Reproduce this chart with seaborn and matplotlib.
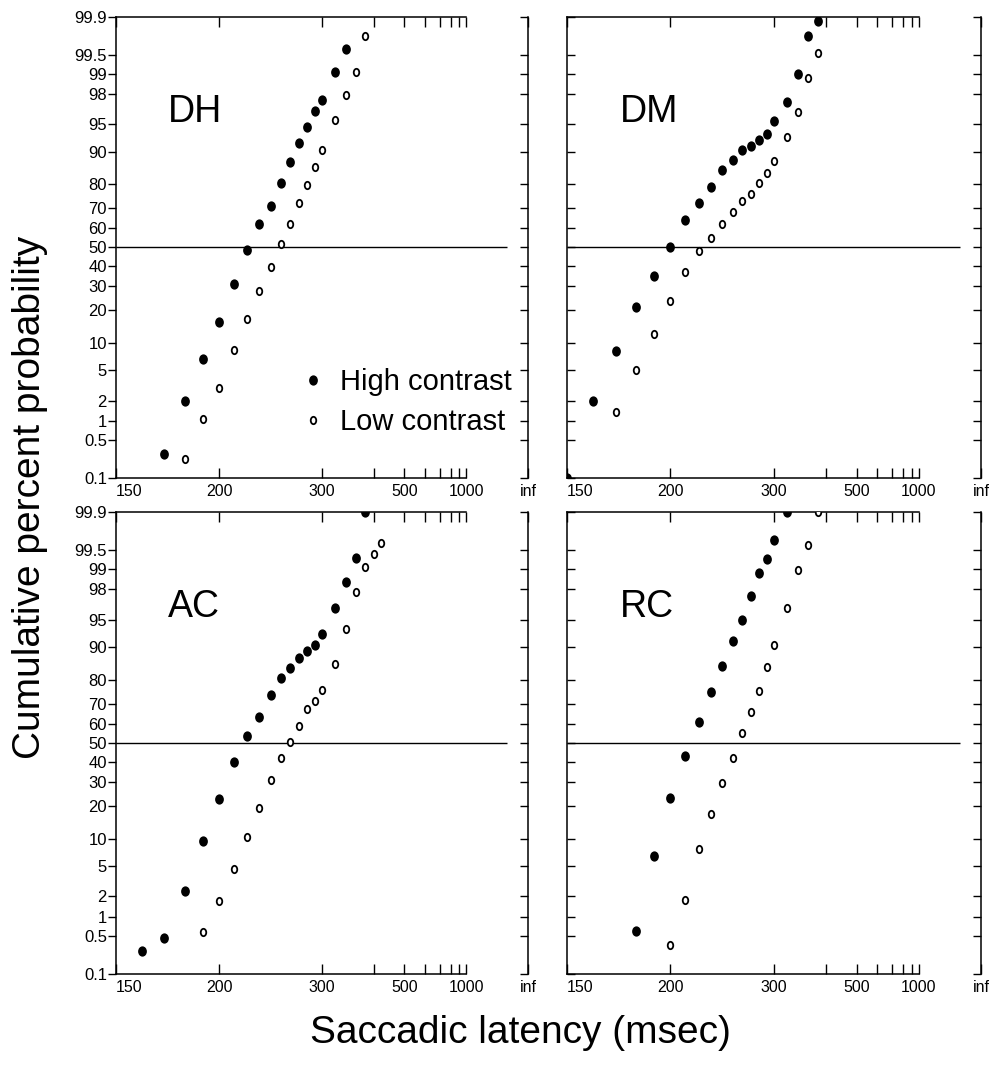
import numpy as np
import pandas as pd
import matplotlib
matplotlib.use('Agg')
import matplotlib.pyplot as plt
from matplotlib.path import Path
from matplotlib.transforms import Affine2D
import seaborn as sns
from statistics import NormalDist

# cumulative percent of saccades at each latency bin (ms)
DH_hi_ms = [170, 180, 190, 200, 210, 220, 230, 240, 250, 260, 270, 280, 290, 300, 320, 340]
DH_hi_pct = [0.28, 2.0, 6.8, 15.9, 31.1, 48.4, 62.1, 71.2, 80.5, 87.3, 91.8, 94.7, 96.6, 97.6, 99.06, 99.61]
DH_lo_ms = [180, 190, 200, 210, 220, 230, 240, 250, 260, 270, 280, 290, 300, 320, 340, 360, 380]
DH_lo_pct = [0.23, 1.09, 2.97, 8.5, 16.9, 27.9, 39.4, 51.6, 62.3, 72.4, 79.9, 86.0, 90.4, 95.6, 97.9, 99.07, 99.77]

DM_hi_ms = [150, 160, 170, 180, 190, 200, 210, 220, 230, 240, 250, 260, 270, 280, 290, 300, 320, 340, 360, 380]
DM_hi_pct = [0.1, 2.0, 8.2, 21.1, 35.1, 49.9, 64.3, 72.4, 79.2, 85.1, 87.9, 90.3, 91.3, 92.4, 93.5, 95.4, 97.45, 98.98, 99.77, 99.88]
DM_lo_ms = [170, 180, 190, 200, 210, 220, 230, 240, 250, 260, 270, 280, 290, 300, 320, 340, 360, 380]
DM_lo_pct = [1.35, 4.98, 12.4, 23.7, 36.9, 48.1, 54.9, 62.2, 68.2, 73.4, 76.4, 80.7, 83.9, 87.7, 93.1, 96.5, 98.84, 99.54]

AC_hi_ms = [160, 170, 180, 190, 200, 210, 220, 230, 240, 250, 260, 270, 280, 290, 300, 320, 340, 360, 380]
AC_hi_pct = [0.27, 0.45, 2.36, 9.4, 22.5, 39.8, 53.9, 63.8, 74.0, 80.9, 84.3, 87.2, 89.1, 90.6, 92.7, 96.45, 98.44, 99.34, 99.9]
AC_lo_ms = [190, 200, 210, 220, 230, 240, 250, 260, 270, 280, 290, 300, 320, 340, 360, 380, 400, 420]
AC_lo_pct = [0.57, 1.73, 4.65, 10.5, 19.3, 31.0, 42.2, 50.4, 58.9, 67.4, 71.3, 76.2, 85.5, 93.6, 97.8, 99.07, 99.43, 99.63]

RC_hi_ms = [180, 190, 200, 210, 220, 230, 240, 250, 260, 270, 280, 290, 300, 320]
RC_hi_pct = [0.6, 6.5, 23.0, 43.1, 61.2, 75.1, 84.8, 91.3, 95.0, 97.5, 98.85, 99.3, 99.67, 99.9]
RC_lo_ms = [200, 210, 220, 230, 240, 250, 260, 270, 280, 290, 300, 320, 340, 360, 380]
RC_lo_pct = [0.35, 1.8, 7.8, 17.2, 29.7, 42.2, 55.3, 66.1, 75.8, 84.6, 90.6, 96.4, 98.97, 99.59, 99.9]

subjects = ['DH', 'DM', 'AC', 'RC']

# axis ticks
INF = 1e12  # stands in for infinite latency (reciprocal 0)
x_major = [150, 200, 300, 500, 1000, INF]
x_major_labels = ['150', '200', '300', '500', '1000', 'inf']
x_minor = [400, 600, 700, 800, 900]
y_ticks = [0.1, 0.5, 1, 2, 5, 10, 20, 30, 40, 50, 60, 70, 80, 90, 95, 98, 99, 99.5, 99.9]
y_labels = ['0.1', '0.5', '1', '2', '5', '10', '20', '30', '40', '50', '60', '70',
            '80', '90', '95', '98', '99', '99.5', '99.9']

sns.set_style('ticks')
plt.rcParams['font.family'] = ['Liberation Sans', 'DejaVu Sans']
plt.rcParams.update({'text.color': 'black', 'axes.labelcolor': 'black',
                     'xtick.color': 'black', 'ytick.color': 'black',
                     'axes.edgecolor': 'black'})

nd = NormalDist()


def recip(t):
    # reciprocal latency axis: -1/t (self-inverse)
    t = np.asarray(t, dtype=float)
    with np.errstate(divide='ignore'):
        return -1000.0 / t


def probit(p):
    p = np.clip(np.asarray(p, dtype=float), 1e-4, 100 - 1e-4)
    return np.vectorize(lambda v: nd.inv_cdf(v / 100.0), otypes=[float])(p)


def probit_inv(z):
    z = np.asarray(z, dtype=float)
    return np.vectorize(lambda v: nd.cdf(v) * 100.0, otypes=[float])(z)


filled = Path.unit_circle().transformed(Affine2D().scale(0.85, 1.0))
hollow = Path.unit_circle().transformed(Affine2D().scale(0.75, 1.0))

fig = plt.figure(figsize=(9.95, 10.67), dpi=100)

rects = {
    'DH': [0.1166, 0.552, 0.4141, 0.4325],
    'DM': [0.5698, 0.552, 0.4161, 0.4325],
    'AC': [0.1166, 0.0872, 0.4141, 0.433],
    'RC': [0.5698, 0.0872, 0.4161, 0.433],
}
data = {
    'DH': (DH_hi_ms, DH_hi_pct, DH_lo_ms, DH_lo_pct),
    'DM': (DM_hi_ms, DM_hi_pct, DM_lo_ms, DM_lo_pct),
    'AC': (AC_hi_ms, AC_hi_pct, AC_lo_ms, AC_lo_pct),
    'RC': (RC_hi_ms, RC_hi_pct, RC_lo_ms, RC_lo_pct),
}

for name in subjects:
    hi_ms, hi_pct, lo_ms, lo_pct = data[name]
    left_col = name in ('DH', 'AC')
    ax = fig.add_axes(rects[name])

    hi = pd.DataFrame({'latency': hi_ms, 'pct': hi_pct})
    lo = pd.DataFrame({'latency': lo_ms, 'pct': lo_pct})
    sns.scatterplot(data=hi, x='latency', y='pct', marker=filled, s=55,
                    color='black', edgecolor='black', linewidth=0,
                    label='High contrast', legend=False, ax=ax, zorder=3)
    sns.scatterplot(data=lo, x='latency', y='pct', marker=hollow, s=28,
                    color='white', edgecolor='black', linewidth=1.3,
                    label='Low contrast', legend=False, ax=ax, zorder=3)
    ax.hlines(50, 150, 3000, color='black', lw=1.0, zorder=2)

    ax.set_xscale('function', functions=(recip, recip))
    ax.set_yscale('function', functions=(probit, probit_inv))
    ax.set_xlim(150, INF)
    ax.set_ylim(0.1, 99.9)
    ax.set_xlabel('')
    ax.set_ylabel('')

    ax.set_xticks(x_major)
    ax.set_xticks(x_minor, minor=True)
    ax.set_xticklabels(x_major_labels)
    ax.get_xticklabels()[0].set_ha('left')
    ax.tick_params(axis='x', which='both', direction='in', top=True, bottom=True,
                   length=7, width=1, labelsize=11.5, pad=4)

    ax.set_yticks(y_ticks)
    ax.yaxis.set_minor_locator(plt.NullLocator())
    if left_col:
        ax.set_yticklabels(y_labels)
        ax.tick_params(axis='y', direction='out', length=5.5, width=1,
                       labelsize=12, pad=1)
    else:
        ax.set_yticklabels([])
        ax.tick_params(axis='y', direction='in', length=5.5, width=1)

    for s in ['left', 'bottom', 'top']:
        ax.spines[s].set_linewidth(1.1)
    ax.spines['bottom'].set_bounds(150, 1000)
    ax.spines['top'].set_bounds(150, 1000)
    ax.spines['right'].set_visible(False)

    # right-hand probit axis with inward ticks
    axr = ax.twinx()
    axr.set_yscale('function', functions=(probit, probit_inv))
    axr.set_ylim(0.1, 99.9)
    axr.set_yticks(y_ticks)
    axr.yaxis.set_minor_locator(plt.NullLocator())
    axr.set_yticklabels([])
    axr.tick_params(axis='y', direction='in', length=5.5, width=1)
    for s in ['left', 'bottom', 'top']:
        axr.spines[s].set_visible(False)
    axr.spines['right'].set_linewidth(1.1)

    ax.text(0.127, 0.772, name, transform=ax.transAxes, fontsize=27, va='baseline')

    if name == 'DH':
        ax.legend(loc='upper left', bbox_to_anchor=(0.443, 0.238), frameon=False,
                  fontsize=21, handlelength=1.0, handletextpad=0.43,
                  labelspacing=0.42, borderpad=0, borderaxespad=0,
                  scatteryoffsets=[0.5])

fig.text(0.030, 0.534, 'Cumulative percent probability', rotation=90,
         fontsize=28, ha='center', va='center')
fig.text(0.523, 0.032, 'Saccadic latency (msec)', fontsize=28,
         ha='center', va='center')

fig.savefig('out.png', dpi=100)
